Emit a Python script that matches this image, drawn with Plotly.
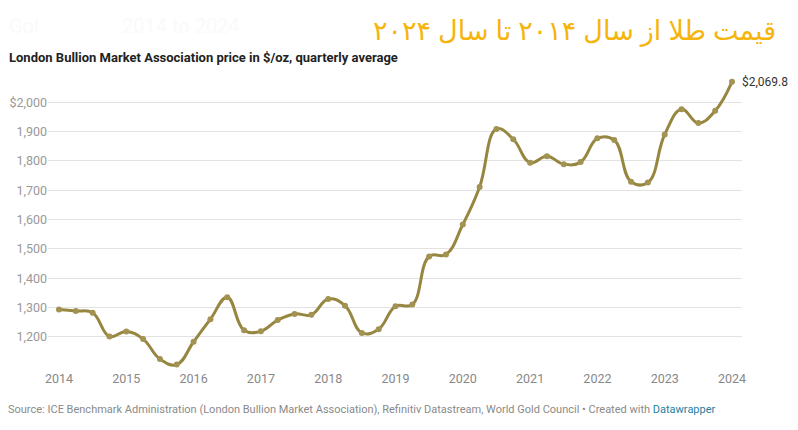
import plotly.graph_objects as go

# Quarterly LBMA gold price averages ($/oz), 2014 Q1 .. 2024 Q1
quarters = [2014 + i * 0.25 for i in range(41)]
prices = [
    1293, 1288, 1282, 1201,   # 2014
    1218, 1192, 1124, 1105,   # 2015
    1183, 1260, 1335, 1222,   # 2016
    1219, 1257, 1278, 1275,   # 2017
    1329, 1306, 1213, 1226,   # 2018
    1304, 1310, 1474, 1481,   # 2019
    1583, 1711, 1909, 1874,   # 2020
    1794, 1816, 1789, 1796,   # 2021
    1877, 1871, 1729, 1726,   # 2022
    1890, 1976, 1929, 1971,   # 2023
    2069.8,                   # 2024
]
year_ticks = list(range(2014, 2025))
year_labels = [str(y) for y in year_ticks]
y_ticks = [1200, 1300, 1400, 1500, 1600, 1700, 1800, 1900, 2000]
y_labels = ["1,200", "1,300", "1,400", "1,500", "1,600", "1,700", "1,800", "1,900", "$2,000"]

title_fa = "قیمت طلا از سال ۲۰۱۴ تا سال ۲۰۲۴"
subtitle = "London Bullion Market Association price in $/oz, quarterly average"
source = ("Source: ICE Benchmark Administration (London Bullion Market Association), "
          "Refinitiv Datastream, World Gold Council • Created with "
          "<span style='color:#1d81a2'>Datawrapper</span>")
end_label = "$2,069.8"

W, H = 798, 430
L, R, T, B = 48, 56, 72.6, 60.7
PW, PH = W - L - R, H - T - B


def px(x):
    return (x - L) / PW


def py(y):
    return (H - B - y) / PH


fig = go.Figure()
fig.add_trace(go.Scatter(
    x=quarters, y=prices, mode="lines+markers",
    line=dict(color="#968640", width=3, shape="spline", smoothing=1.2),
    marker=dict(color="#a29352", size=6),
    hoverinfo="x+y", showlegend=False,
))

ann = [
    dict(x=quarters[-1], y=prices[-1], xref="x", yref="y", text=end_label,
         showarrow=False, xanchor="left", yanchor="middle", xshift=8,
         font=dict(size=12, color="#333333", family="Roboto")),
    dict(x=px(7), y=py(57), xref="paper", yref="paper", text="<b>" + subtitle + "</b>",
         showarrow=False, xanchor="left", yanchor="middle",
         font=dict(size=13, color="#222222", family="Roboto")),
    dict(x=px(778), y=py(29), xref="paper", yref="paper", text=title_fa,
         showarrow=False, xanchor="right", yanchor="middle",
         font=dict(size=27, color="#f5b50c", family="Noto Sans, DejaVu Sans")),
    dict(x=px(7), y=py(25), xref="paper", yref="paper", text="Gol",
         showarrow=False, xanchor="left", yanchor="middle",
         font=dict(size=20, color="#fafafa", family="Roboto")),
    dict(x=px(120), y=py(25), xref="paper", yref="paper", text="2014 to 2024",
         showarrow=False, xanchor="left", yanchor="middle",
         font=dict(size=20, color="#fafafa", family="Roboto")),
    dict(x=px(6), y=py(410), xref="paper", yref="paper", text=source,
         showarrow=False, xanchor="left", yanchor="middle",
         font=dict(size=11, color="#8a8a8a", family="Roboto")),
]

fig.update_layout(
    width=W, height=H,
    margin=dict(l=L, r=R, t=T, b=B, pad=0, autoexpand=False),
    paper_bgcolor="white", plot_bgcolor="white",
    font=dict(family="Roboto", color="#888888", size=12),
    annotations=ann,
    xaxis=dict(range=[2014 - 11 / 67.3, 2024 + 10 / 67.3], tickvals=year_ticks,
               ticktext=year_labels, showgrid=False, zeroline=False, automargin=False,
               showline=False, ticks="", tickfont=dict(size=12.5, color="#888888")),
    yaxis=dict(range=[1090, 2100], tickvals=y_ticks, ticktext=y_labels, automargin=False,
               showgrid=True, gridcolor="#e2e2e2", gridwidth=1, zeroline=False,
               showline=False, ticks="", tickfont=dict(size=12.5, color="#999999")),
)

fig.write_html("out.html", config={"displayModeBar": False},
               post_script="document.body.style.margin='0';")
